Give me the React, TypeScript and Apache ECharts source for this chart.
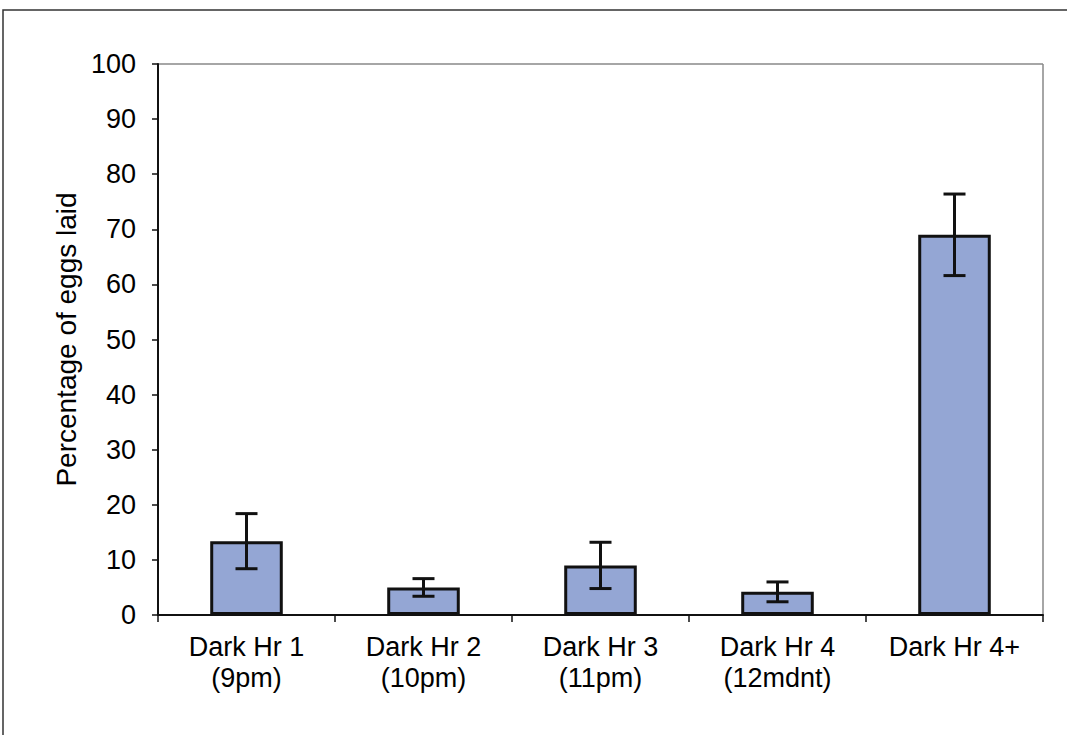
import React, { useEffect, useRef } from "react";
import * as echarts from "echarts";

const categories = [
  "Dark Hr 1\n(9pm)",
  "Dark Hr 2\n(10pm)",
  "Dark Hr 3\n(11pm)",
  "Dark Hr 4\n(12mdnt)",
  "Dark Hr 4+",
];
const means = [13.4, 5.0, 9.0, 4.2, 69.0];
const errors = [5.0, 1.6, 4.2, 1.8, 7.4];
const yTicks = [0, 10, 20, 30, 40, 50, 60, 70, 80, 90, 100];

const FONT = "'Liberation Sans', Arial, sans-serif";

export default function App() {
  const ref = useRef<HTMLDivElement>(null);
  useEffect(() => {
    if (!ref.current) return;
    const chart = echarts.init(ref.current, undefined, { renderer: "svg" });
    const errData = means.map((m, i) => [i, m - errors[i], m + errors[i]]);
    chart.setOption({
      animation: false,
      backgroundColor: "#ffffff",
      graphic: [
        {
          type: "rect",
          shape: { x: 3, y: 10, width: 1070, height: 740 },
          style: { fill: "none", stroke: "#333", lineWidth: 1.5 },
          silent: true,
        },
        {
          type: "line",
          shape: { x1: 158, y1: 64, x2: 1043, y2: 64 },
          style: { stroke: "#888", lineWidth: 1.5 },
          silent: true,
        },
        {
          type: "line",
          shape: { x1: 1043, y1: 64, x2: 1043, y2: 615 },
          style: { stroke: "#888", lineWidth: 1.5 },
          silent: true,
        },
      ],
      grid: { left: 158, right: 24, top: 64, bottom: 120 },
      xAxis: {
        type: "category",
        data: categories,
        axisLine: { lineStyle: { color: "#111", width: 2 } },
        axisTick: { show: true, alignWithLabel: false, length: 7, lineStyle: { color: "#111", width: 1.5 } },
        axisLabel: {
          color: "#000",
          fontFamily: FONT,
          fontSize: 27,
          lineHeight: 31,
          margin: 16,
          interval: 0,
        },
      },
      yAxis: {
        type: "value",
        min: 0,
        max: 100,
        interval: 10,
        name: "Percentage of eggs laid",
        nameLocation: "middle",
        nameGap: 75,
        nameTextStyle: { color: "#000", fontFamily: FONT, fontSize: 28 },
        axisLine: { show: true, lineStyle: { color: "#111", width: 2 } },
        axisTick: { show: true, length: 6, lineStyle: { color: "#111", width: 1.5 } },
        splitLine: { show: false },
        axisLabel: {
          color: "#000",
          fontFamily: FONT,
          fontSize: 27,
          margin: 22,
          formatter: (v: number) => (yTicks.includes(v) ? String(v) : ""),
        },
      },
      series: [
        {
          type: "bar",
          data: means,
          barWidth: "41%",
          itemStyle: { color: "#94a6d4", borderColor: "#111", borderWidth: 3 },
        },
        {
          type: "custom",
          data: errData,
          z: 10,
          renderItem: (params: any, api: any) => {
            const x = api.value(0);
            const lo = api.coord([x, api.value(1)]);
            const hi = api.coord([x, api.value(2)]);
            const cap = 11;
            const st = { stroke: "#111", lineWidth: 3 };
            return {
              type: "group",
              children: [
                { type: "line", shape: { x1: lo[0], y1: lo[1], x2: hi[0], y2: hi[1] }, style: st },
                { type: "line", shape: { x1: hi[0] - cap, y1: hi[1], x2: hi[0] + cap, y2: hi[1] }, style: st },
                { type: "line", shape: { x1: lo[0] - cap, y1: lo[1], x2: lo[0] + cap, y2: lo[1] }, style: st },
              ],
            };
          },
        },
      ],
    });
    return () => chart.dispose();
  }, []);
  return (
    <div
      ref={ref}
      style={{ position: "absolute", left: 0, top: 0, width: 1067, height: 735 }}
    />
  );
}
